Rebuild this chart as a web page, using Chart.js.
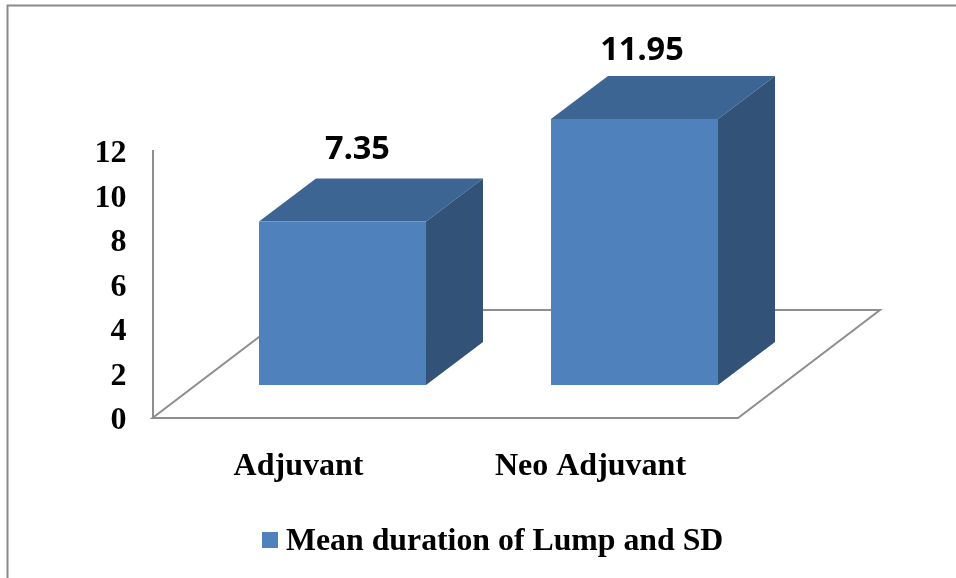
<!DOCTYPE html>
<html>
<head>
<meta charset="utf-8">
<script src="https://cdn.jsdelivr.net/npm/chart.js@4/dist/chart.umd.min.js"></script>
<style>
  html, body { margin:0; padding:0; background:#fff; }
  #wrap { width:956px; height:578px; position:relative; }
</style>
</head>
<body>
<div id="wrap"><canvas id="c" width="956" height="578"></canvas></div>
<script>
const categories = ['Adjuvant', 'Neo Adjuvant'];
const seriesName = 'Mean duration of Lump and SD';
const seriesValues = [7.35, 11.95];
const valueLabels = ['7.35', '11.95'];

const SERIF = '"Liberation Serif", serif';
const FRONT = '#4f81bd', TOP = '#3d6594', SIDE = '#325278', LINE = '#8e8e8e';
// 3D look: bars stand part way into the floor
const SHIFT_X = 44, SHIFT_Y = -33;
const DEPTH_X = 57, DEPTH_Y = -43;
const FLOOR_X = 142, FLOOR_Y = -108;
const LABEL_NUDGE = [[15, -29], [7.5, -25]];

const poly = (ctx, color, pts) => {
  ctx.fillStyle = color;
  ctx.beginPath();
  pts.forEach((p, i) => i ? ctx.lineTo(p[0], p[1]) : ctx.moveTo(p[0], p[1]));
  ctx.closePath();
  ctx.fill();
};

const threeD = {
  id: 'threeD',
  beforeDraw(chart) {
    const { ctx } = chart;
    ctx.save();
    // sheet edge, left and top only
    ctx.strokeStyle = '#8a8a8a';
    ctx.lineWidth = 2;
    ctx.beginPath();
    ctx.moveTo(7.5, 578); ctx.lineTo(7.5, 5.5); ctx.lineTo(956, 5.5);
    ctx.stroke();
    ctx.restore();
  },
  beforeDatasetsDraw(chart) {
    const { ctx, chartArea: a } = chart;
    const y0 = chart.scales.y.getPixelForValue(0);
    ctx.save();
    ctx.strokeStyle = LINE;
    ctx.lineWidth = 2;
    ctx.beginPath();
    ctx.moveTo(a.left, y0);
    ctx.lineTo(a.right + 1.5, y0);
    ctx.lineTo(a.right + 1.5 + FLOOR_X, y0 + FLOOR_Y);
    ctx.lineTo(a.left + FLOOR_X, y0 + FLOOR_Y);
    ctx.closePath();
    ctx.stroke();
    ctx.restore();
  },
  beforeDatasetDraw(chart, args) {
    const { ctx } = chart;
    ctx.save();
    ctx.translate(SHIFT_X, SHIFT_Y);
    args.meta.data.forEach(el => {
      const l = el.x - el.width / 2, r = el.x + el.width / 2;
      poly(ctx, TOP, [[l, el.y], [r, el.y], [r + DEPTH_X, el.y + DEPTH_Y], [l + DEPTH_X, el.y + DEPTH_Y]]);
      poly(ctx, SIDE, [[r, el.y], [r + DEPTH_X, el.y + DEPTH_Y], [r + DEPTH_X, el.base + DEPTH_Y], [r, el.base]]);
    });
  },
  afterDatasetDraw(chart) {
    chart.ctx.restore();
  },
  afterDraw(chart) {
    const { ctx } = chart;
    const meta = chart.getDatasetMeta(0);
    ctx.save();
    ctx.fillStyle = '#000';
    ctx.textAlign = 'center';
    ctx.textBaseline = 'middle';
    ctx.font = 'bold 32.5px "Noto Sans", sans-serif';
    meta.data.forEach((el, i) => {
      const topY = el.y + SHIFT_Y + DEPTH_Y;
      ctx.fillText(valueLabels[i], el.x + SHIFT_X + LABEL_NUDGE[i][0], topY + LABEL_NUDGE[i][1]);
    });
    // legend: swatch sits closer to its text than the built-in one allows
    ctx.fillStyle = FRONT;
    ctx.fillRect(262, 532, 16, 16);
    ctx.fillStyle = '#000';
    ctx.textAlign = 'left';
    ctx.font = 'bold 31.8px ' + SERIF;
    ctx.fillText(chart.data.datasets[0].label, 286, 542);
    ctx.restore();
  }
};

new Chart(document.getElementById('c'), {
  type: 'bar',
  data: {
    labels: categories,
    datasets: [{
      label: seriesName,
      data: seriesValues,
      backgroundColor: FRONT,
      borderWidth: 0,
      categoryPercentage: 1,
      barPercentage: 0.572
    }]
  },
  options: {
    responsive: false,
    animation: false,
    layout: { padding: { left: 30, right: 219.5, top: 151, bottom: 0 } },
    plugins: { legend: { display: false }, tooltip: { enabled: false } },
    scales: {
      x: {
        afterFit: s => { s.height = 160; },
        grid: { display: false, drawTicks: false },
        border: { display: false },
        ticks: { color: '#000', padding: 30, maxRotation: 0, font: { family: SERIF, size: 32, weight: 'bold' } }
      },
      y: {
        min: 0, max: 12,
        afterFit: s => { s.width = 122.5; },
        grid: { display: false, drawTicks: false },
        border: { display: true, color: LINE, width: 2 },
        ticks: { stepSize: 2, color: '#000', padding: 26, labelOffset: 3, font: { family: SERIF, size: 32, weight: 'bold' } }
      }
    }
  },
  plugins: [threeD]
});
</script>
</body>
</html>
